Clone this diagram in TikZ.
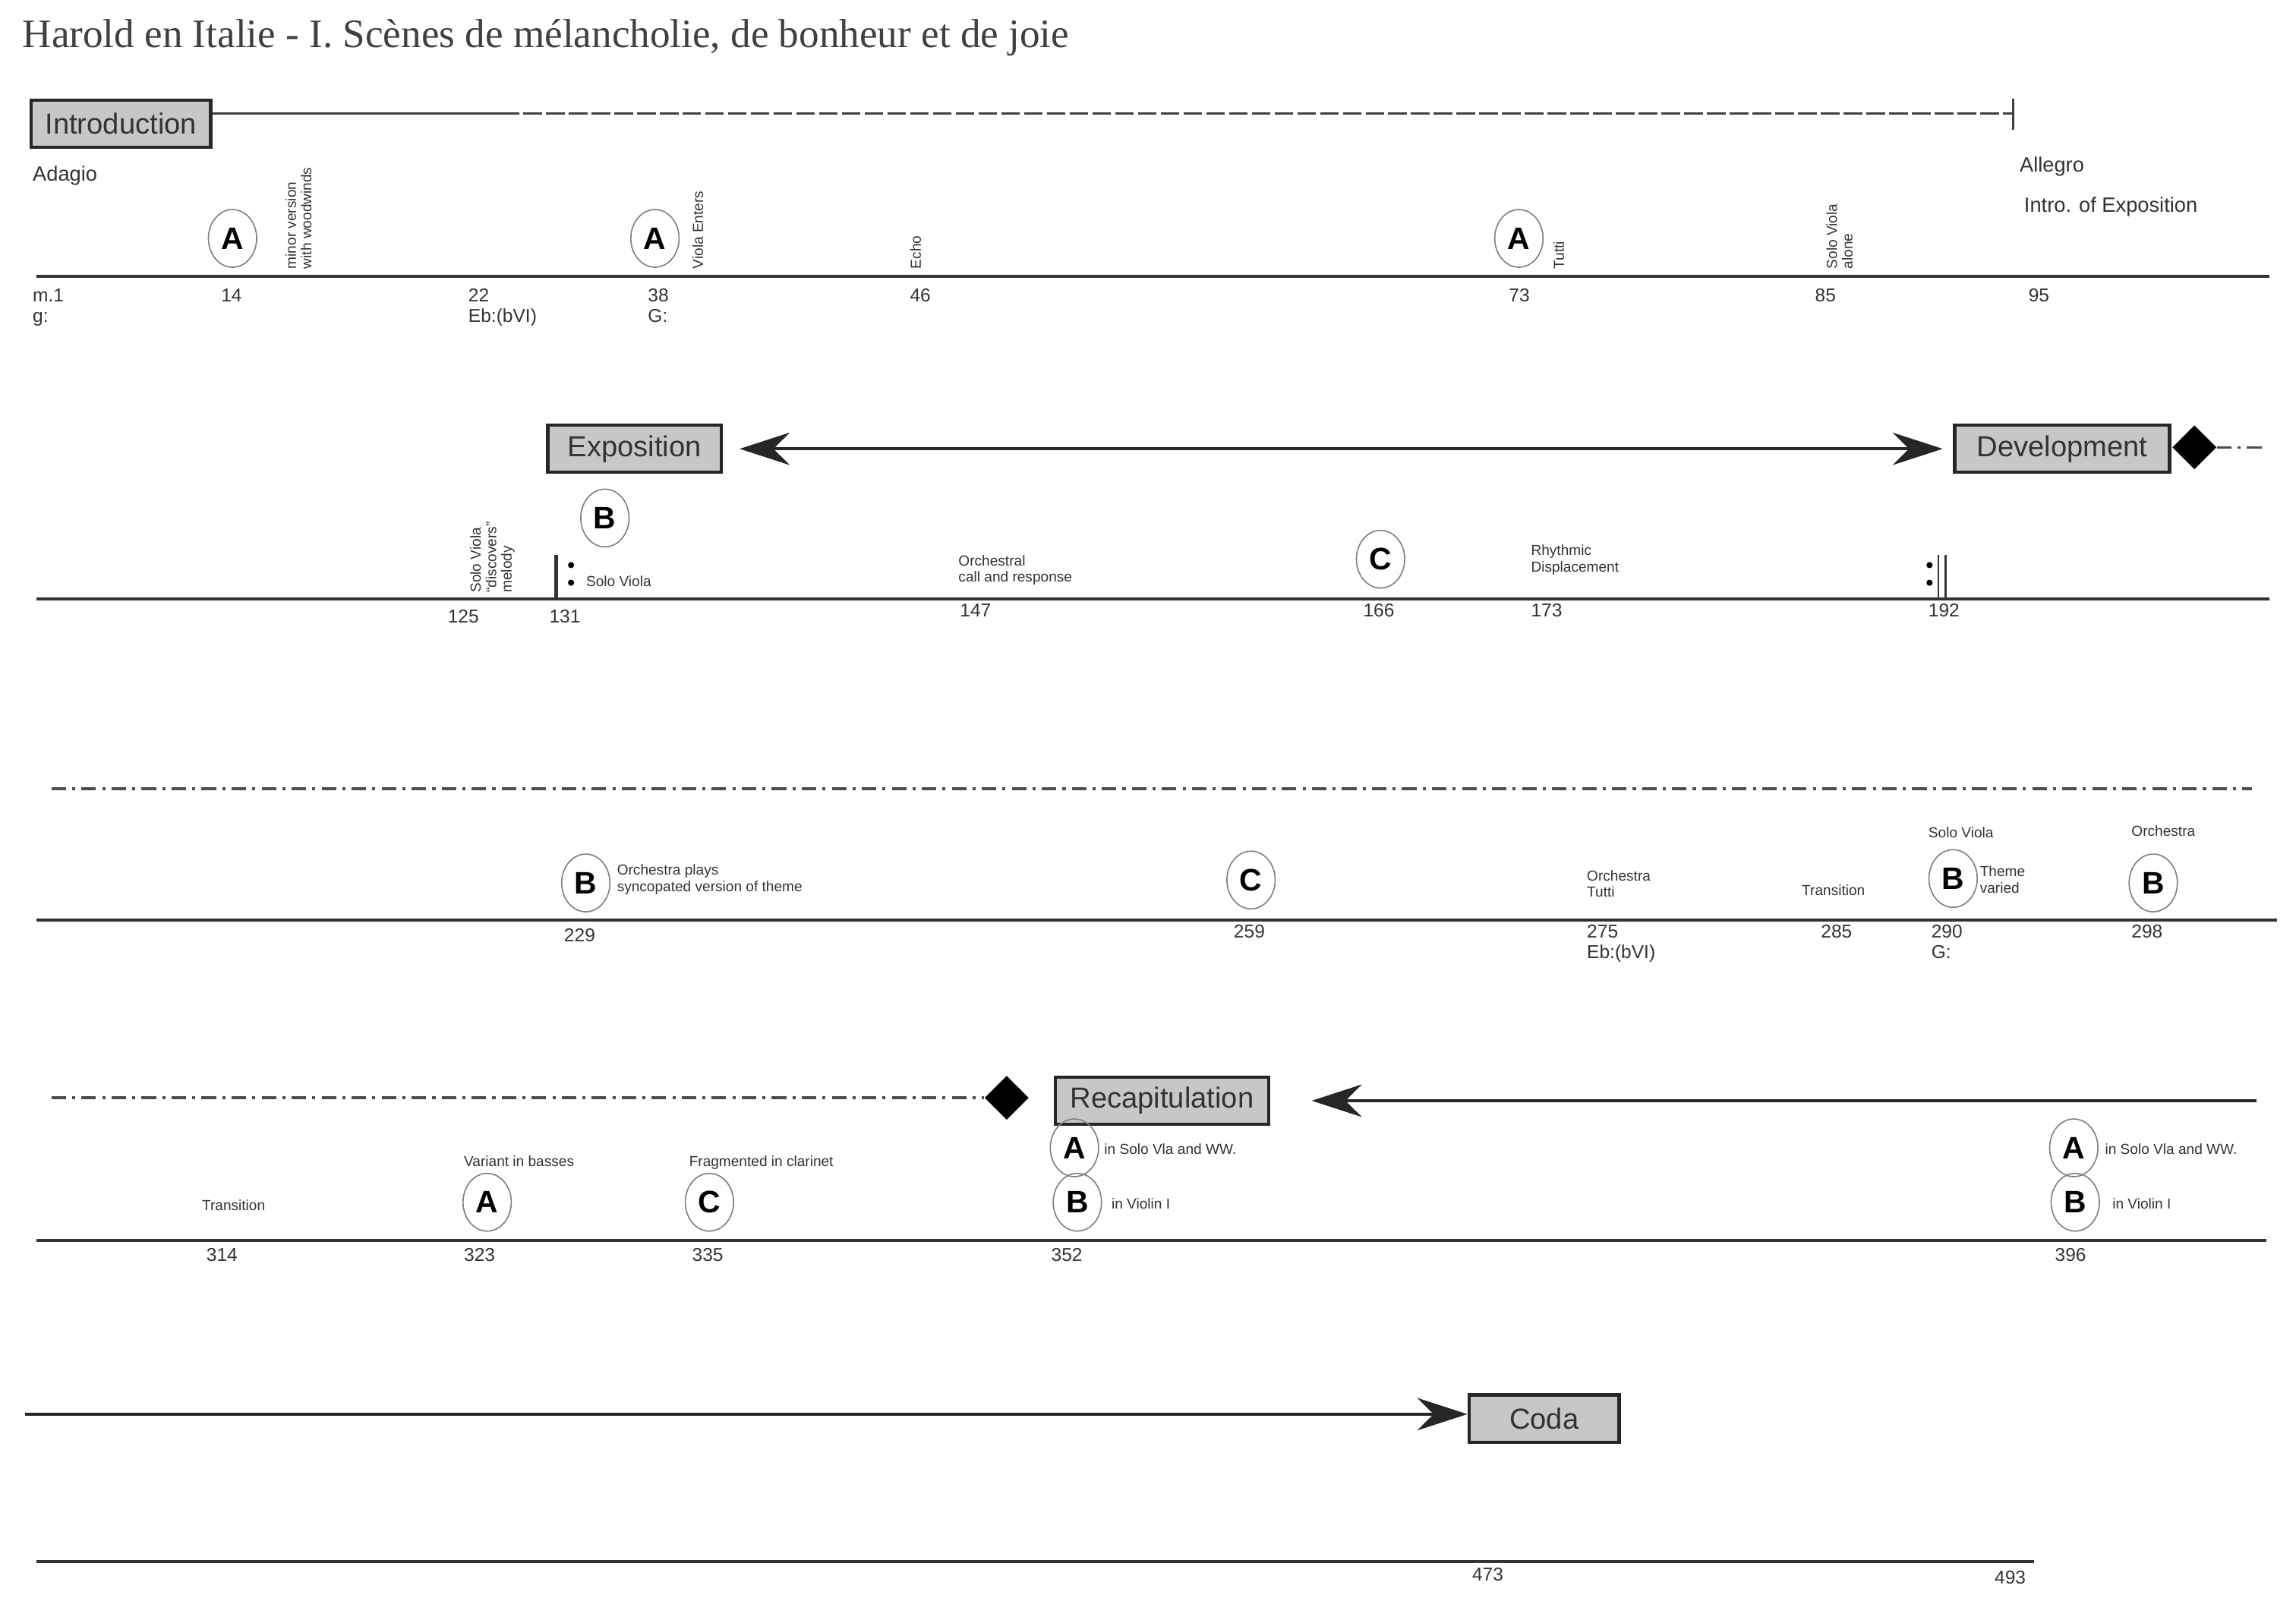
\documentclass[tikz,border=0pt]{standalone}
\usepackage{fontspec}
\setmainfont{Liberation Sans}
\newfontfamily\titlefont{Liberation Serif}
\usetikzlibrary{shapes.geometric,arrows.meta}
\begin{document}
\begin{tikzpicture}[x=0.025cm,y=-0.025cm,
  tl/.style={line width=1.5pt,draw=black!80},
  sec/.style={draw=black!85,line width=1.6pt,fill=black!22,minimum height=0.8cm,inner sep=2pt,font=\fontsize{14}{14}\selectfont,text=black!80,anchor=west},
  mk/.style={ellipse,draw=black!50,line width=0.6pt,minimum width=0.82cm,minimum height=0.98cm,inner sep=0pt,font=\fontsize{15}{15}\selectfont\bfseries},
  num/.style={anchor=north west,font=\fontsize{9}{10}\selectfont,text=black!80,inner sep=0pt,align=left},
  sm/.style={anchor=north west,font=\fontsize{7}{8}\selectfont,text=black!80,inner sep=0pt,align=left},
  rs/.style={rotate=90,anchor=south west,font=\fontsize{7}{7.5}\selectfont,text=black!80,inner sep=0pt,align=left},
  arr/.style={line width=1.5pt,draw=black!85,-{Stealth[length=0.85cm,width=0.55cm]}},
  dd/.style={line width=1.3pt,draw=black!70,dash pattern=on 7pt off 3pt on 1.5pt off 3pt},
  dia/.style={diamond,fill=black,inner sep=0pt,minimum size=0.75cm}]
\useasboundingbox (0,0) rectangle (1560,1087.5);
% title
\node[anchor=base west,inner sep=0pt,font=\titlefont\fontsize{19.5}{20}\selectfont,text=black!75] (title) at (15,32) {Harold en Italie - I. Scènes de mélancholie, de bonheur et de joie};
% ---------- row 1
\node[sec,minimum width=3.05cm] (intro) at (20,84) {Introduction};
\coordinate (introEnd) at (1368,77);
\draw[line width=1.2pt,black!75] (intro.east|-introEnd) -- (340,77);
\draw[line width=1.2pt,black!75,dash pattern=on 9pt off 2pt] (340,77) -- (introEnd);
\draw[line width=1.2pt,black!75] (1368,67) -- (1368,88);
\node[anchor=base west,inner sep=0pt,font=\fontsize{10}{10}\selectfont,text=black!80] (adagio) at (22,123) {Adagio};
\node[anchor=base west,inner sep=0pt,font=\fontsize{10}{10}\selectfont,text=black!80] (allegro) at (1372,117) {Allegro};
\node[anchor=base west,inner sep=0pt,font=\fontsize{10}{10}\selectfont,text=black!80] (introexp) at (1375,144) {Intro. of Exposition};
\draw[tl] (25,188) coordinate (l1a) -- (1542,188) coordinate (l1b);
\node[mk] (a1) at (158,162) {A};
\node[rs] (t1) at (212,183) {minor version\\with woodwinds};
\node[mk] (a2) at (445,162) {A};
\node[rs] (t2) at (478,183) {Viola Enters};
\node[rs] (t3) at (626,183) {Echo};
\node[mk] (a3) at (1032,162) {A};
\node[rs] (t4) at (1063,183) {Tutti};
\node[rs] (t5) at (1259,183) {Solo Viola\\alone};
\node[num] (n1) at (22,196) {m.1\\g:};
\node[num] (n14) at (150,196) {14};
\node[num] (n22) at (318,196) {22\\Eb:(bVI)};
\node[num] (n38) at (440,196) {38\\G:};
\node[num] (n46) at (618,196) {46};
\node[num] (n73) at (1025,196) {73};
\node[num] (n85) at (1233,196) {85};
\node[num] (n95) at (1378,196) {95};
% ---------- row 2
\node[sec,minimum width=2.95cm] (expo) at (371,305) {Exposition};
\node[sec,minimum width=3.65cm] (dev) at (1327,305) {Development};
\draw[arr,{Stealth[length=0.85cm,width=0.55cm]}-{Stealth[length=0.85cm,width=0.55cm]}] ([xshift=8pt]expo.east) -- ([xshift=-5pt]dev.west);
\node[dia] (d1) at (1491,304) {};
\coordinate (d1e) at (1540,304);
\draw[dd] (d1.east) -- (d1e);
\draw[tl] (25,407) -- (1542,407);
\node[mk] (b1) at (411,352) {B};
\node[rs] (t6) at (350,403) {Solo Viola\\``discovers''\\melody};
\draw[line width=2pt,black!80] (378,377) -- (378,407);
\fill (388,384) circle (1.5pt) (388,396) circle (1.5pt);
\draw[line width=1pt,black!80] (1317,377) -- (1317,407);
\draw[line width=1pt,black!80] (1322,377) -- (1322,407);
\fill (1311,384) circle (1.5pt) (1311,396) circle (1.5pt);
\node[sm] (t7) at (398,391) {Solo Viola};
\node[sm] (t8) at (651,377) {Orchestral\\call and response};
\node[mk] (c1) at (938,380) {C};
\node[sm] (t9) at (1040,370) {Rhythmic\\Displacement};
\node[num] (n125) at (304,414) {125};
\node[num] (n131) at (373,414) {131};
\node[num] (n147) at (652,410) {147};
\node[num] (n166) at (926,410) {166};
\node[num] (n173) at (1040,410) {173};
\node[num] (n192) at (1310,410) {192};
% ---------- row 3
\draw[dd] (35,536) -- (1530,536);
\draw[tl] (25,625) -- (1547,625);
\node[mk] (b2) at (398,600) {B};
\node[sm] (t10) at (419,587) {Orchestra plays\\syncopated version of theme};
\node[mk] (c2) at (850,598) {C};
\node[sm] (t11) at (1078,591) {Orchestra\\Tutti};
\node[sm] (t12) at (1224,601) {Transition};
\node[mk] (b3) at (1327,597) {B};
\node[sm] (t13) at (1310,562) {Solo Viola};
\node[sm] (t14) at (1345,588) {Theme\\varied};
\node[sm] (t15) at (1448,561) {Orchestra};
\node[mk] (b4) at (1463,600) {B};
\node[num] (n229) at (383,631) {229};
\node[num] (n259) at (838,628) {259};
\node[num] (n275) at (1078,628) {275\\Eb:(bVI)};
\node[num] (n285) at (1237,628) {285};
\node[num] (n290) at (1312,628) {290\\G:};
\node[num] (n298) at (1448,628) {298};
% ---------- row 4
\node[dia] (d2) at (684,746) {};
\draw[dd] (35,746) -- (d2.west);
\node[sec,minimum width=3.62cm] (recap) at (716,748) {Recapitulation};
\coordinate (r4e) at (1533,748);
\draw[arr] (r4e) -- ([xshift=20pt]recap.east);
\node[mk] (a4) at (730,780) {A};
\node[sm] (t16) at (750,777) {in Solo Vla and WW.};
\node[mk] (b5) at (732,817) {B};
\node[sm] (t17) at (755,814) {in Violin I};
\node[mk] (a5) at (1409,780) {A};
\node[sm] (t18) at (1430,777) {in Solo Vla and WW.};
\node[mk] (b6) at (1410,817) {B};
\node[sm] (t19) at (1435,814) {in Violin I};
\node[sm] (t20) at (137,815) {Transition};
\node[sm] (t21) at (315,785) {Variant in basses};
\node[mk] (a6) at (331,817) {A};
\node[sm] (t22) at (468,785) {Fragmented in clarinet};
\node[mk] (c3) at (482,817) {C};
\draw[tl] (25,843) -- (1540,843);
\node[num] (n314) at (140,848) {314};
\node[num] (n323) at (315,848) {323};
\node[num] (n335) at (470,848) {335};
\node[num] (n352) at (714,848) {352};
\node[num] (n396) at (1396,848) {396};
% ---------- row 5
\node[sec,minimum width=2.55cm] (coda) at (997,964) {Coda};
\coordinate (c5s) at (17,961);
\draw[arr] (c5s) -- (coda.west|-c5s);
\draw[tl] (25,1061) -- (1382,1061);
\node[num] (n473) at (1000,1065) {473};
\node[num] (n493) at (1355,1067) {493};
\end{tikzpicture}
\end{document}
